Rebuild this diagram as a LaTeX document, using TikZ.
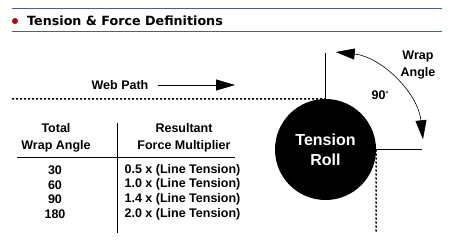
\documentclass[tikz,border=0pt]{standalone}
\usepackage{fontspec}
\setmainfont{Liberation Sans}
\newfontfamily\titlefont{DejaVu Sans}
\usepackage{xcolor}
\usepackage{tikz}
\usetikzlibrary{arrows.meta, calc}

\definecolor{barblue}{RGB}{74,94,146}
\definecolor{bulletred}{RGB}{170,10,10}

\begin{document}
\begin{tikzpicture}[
    x=1pt, y=1pt,
    >={Triangle[length=19pt, width=11pt]},
    every node/.style={font=\bfseries\fontsize{12.5}{16.5}\selectfont, inner sep=0pt},
    rule/.style={line width=1pt},
    webline/.style={line width=1.5pt, dash pattern=on 2pt off 2pt},
    refline/.style={line width=1.5pt}
]
\useasboundingbox (0,0) rectangle (453,-246);

% Title bar
\draw[barblue, line width=1pt] (12,-9) -- (442,-9);
\draw[barblue, line width=1pt] (12,-32) -- (442,-32);
\fill[bulletred] (15,-21) circle (3pt);
\node[anchor=west, font=\titlefont\bfseries\fontsize{12.7}{15}\selectfont] (title) at (27,-21) {Tension \& Force Definitions};

% Tension roll
\node[circle, fill=black, minimum size=101pt, text=white, align=center,
      font=\bfseries\fontsize{16}{20}\selectfont] (roll) at (325.5,-149.5) {Tension\\Roll};

% Web path
\coordinate (webin) at (12,-99);
\coordinate (webout) at (376,-233);
\draw[webline] (webin) -- (roll.north);
\draw[webline] (roll.east) -- (webout);
\node (webpath) at (120,-85) {Web Path};
\coordinate (dirstart) at (158,-85);
\coordinate (dirend) at (235,-85);
\draw[->, line width=0.8pt] (dirstart) -- (dirend);

% Wrap angle
\coordinate (reftop) at (325.5,-53);
\coordinate (refright) at (422,-149.5);
\draw[refline] (roll.north) -- (reftop);
\draw[refline] (roll.east) -- (refright);
\draw[<->, line width=0.6pt] ($(roll.center)+(84:98)$) arc[start angle=84, end angle=6, radius=98];
\node[align=center] (wrap) at (418,-65) {Wrap\\Angle};
\node (ninety) at (380,-95) {90\raisebox{3pt}{\fontsize{7}{7}\selectfont°}};

% Table
\node[align=center] (hdang) at (56,-138) {Total\\Wrap Angle};
\node[align=center] (hdmult) at (184,-138) {Resultant\\Force Multiplier};
\coordinate (rulel) at (17,-157);
\coordinate (ruler) at (235,-157);
\coordinate (colt) at (117,-123);
\coordinate (colb) at (117,-233);
\draw[rule] (rulel) -- (ruler);
\draw[rule] (colt) -- (colb);
\foreach \ang/\mult [count=\i] in {30/0.5, 60/1.0, 90/1.4, 180/2.0} {
    \node (ang\i) at (55,{-170-14.7*(\i-1)}) {\ang};
    \node (mult\i) at (182.5,{-170-14.7*(\i-1)}) {\mult\ x (Line Tension)};
}
\end{tikzpicture}
\end{document}
